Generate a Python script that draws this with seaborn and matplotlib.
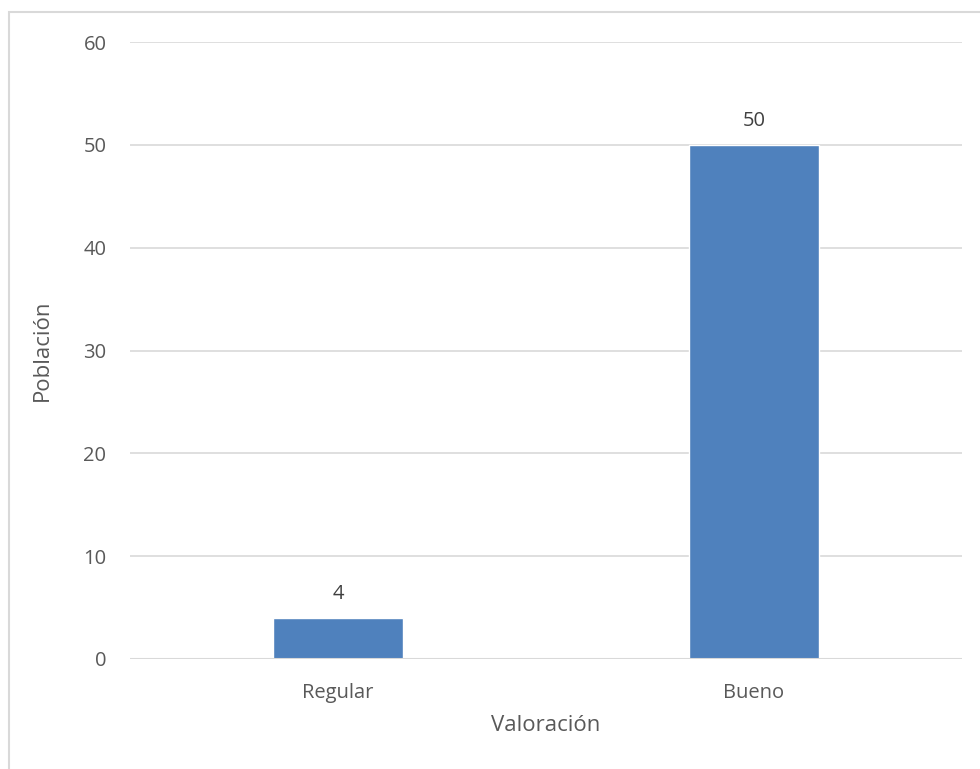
import matplotlib
matplotlib.use("Agg")
import matplotlib.pyplot as plt
import seaborn as sns
import pandas as pd
from matplotlib.patches import Rectangle

categories = ["Regular", "Bueno"]
values = [4, 50]

df = pd.DataFrame({"Valoración": categories, "Población": values})

sns.set_style("white")
plt.rcParams['font.family'] = ['Open Sans', 'DejaVu Sans']

fig = plt.figure(figsize=(9.8, 7.69), dpi=100)
ax = fig.add_axes([130 / 980, 1 - 659 / 769, 832 / 980, 617 / 769])

sns.barplot(data=df, x="Valoración", y="Población", color="#4F81BD",
            saturation=1, width=0.312, ax=ax, zorder=3)

ax.set_ylim(0, 60)
ax.set_yticks(range(0, 61, 10))
ax.grid(axis="y", color="#d9d9d9", linewidth=1.2, zorder=0)
for s in ax.spines.values():
    s.set_visible(False)
ax.axhline(0, color="#d9d9d9", linewidth=1.5, zorder=4)

txt = "#595959"
ax.tick_params(axis="both", length=0, labelsize=14.5, labelcolor=txt)
ax.tick_params(axis="y", pad=17)
ax.tick_params(axis="x", pad=17)
ax.set_xlabel("Valoración", fontsize=16, color=txt, labelpad=9)
ax.set_ylabel("Población", fontsize=16, color=txt, labelpad=22)

for cont in ax.containers:
    ax.bar_label(cont, padding=10, fontsize=14.5, color="#404040")

# outer chart border
fig.patches.append(Rectangle((9 / 980, -0.1), 1.2, 1 - 12 / 769 + 0.1,
                             transform=fig.transFigure, fill=False,
                             edgecolor="#d9d9d9", linewidth=1.5))

fig.savefig("out.png", dpi=100)
